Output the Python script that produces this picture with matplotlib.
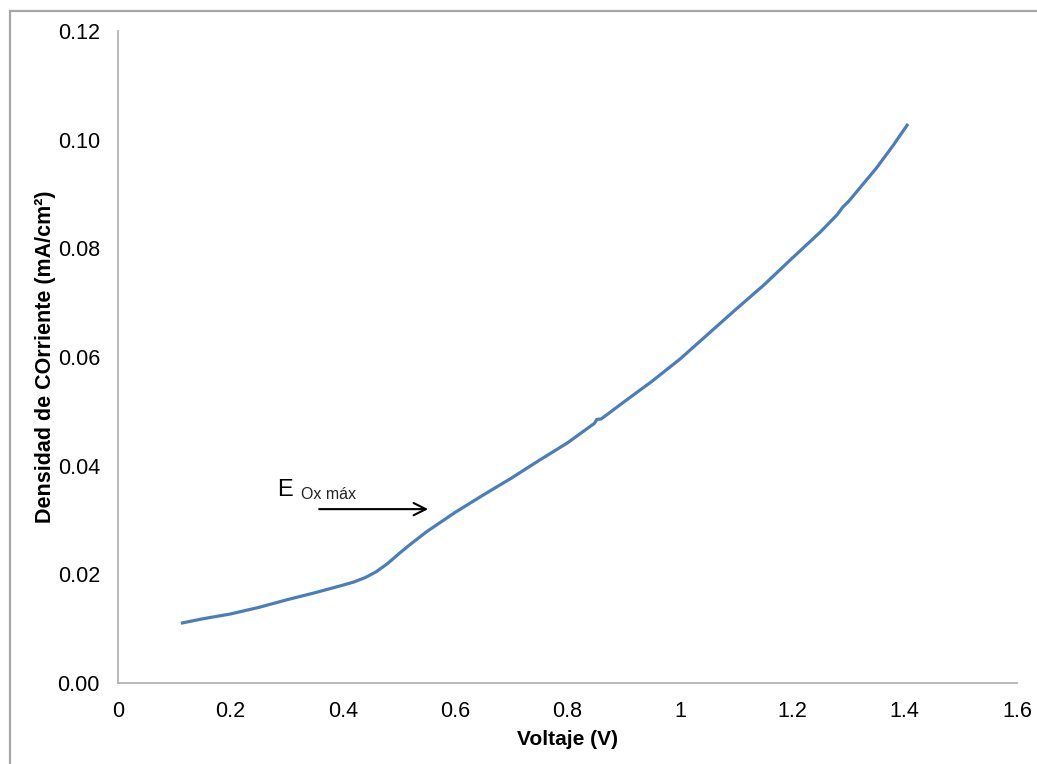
import matplotlib.pyplot as plt
from matplotlib.patches import Rectangle

plt.rcParams['font.family'] = ['Liberation Sans', 'DejaVu Sans']

# curva de polarización
voltaje = [0.112, 0.15, 0.2, 0.25, 0.3, 0.35, 0.4, 0.42, 0.44, 0.46, 0.48, 0.5, 0.52,
           0.55, 0.58, 0.6, 0.65, 0.7, 0.75, 0.8, 0.84, 0.848, 0.852, 0.86, 0.9, 0.95, 1.0,
           1.05, 1.1, 1.15, 1.2, 1.25, 1.28, 1.29, 1.3, 1.35, 1.38, 1.406]
densidad = [0.0110, 0.0118, 0.0127, 0.0139, 0.0153, 0.0166, 0.0180, 0.0186, 0.0194, 0.0205,
            0.0220, 0.0238, 0.0255, 0.0279, 0.0300, 0.0314, 0.0346, 0.0377, 0.0410, 0.0442,
            0.0472, 0.0478, 0.0485, 0.0486, 0.0517, 0.0555, 0.0596, 0.0642, 0.0688, 0.0733,
            0.0782, 0.0830, 0.0862, 0.0876, 0.0886, 0.0948, 0.0990, 0.1029]

xticks = [0, 0.2, 0.4, 0.6, 0.8, 1, 1.2, 1.4, 1.6]
xtick_labels = ['0', '0.2', '0.4', '0.6', '0.8', '1', '1.2', '1.4', '1.6']
yticks = [0, 0.02, 0.04, 0.06, 0.08, 0.10, 0.12]
ytick_labels = ['0.00', '0.02', '0.04', '0.06', '0.08', '0.10', '0.12']

fig = plt.figure(figsize=(10.37, 7.64), dpi=100)
# marco exterior
fig.patches.append(Rectangle((10 / 1037, -0.05), 1.1, (764 - 11) / 764 + 0.05,
                             transform=fig.transFigure, fill=False,
                             edgecolor='#a6a6a6', linewidth=1.6))
ax = fig.add_axes([118 / 1037, 81 / 764, 899 / 1037, 652 / 764])

ax.plot(voltaje, densidad, color='#4a7ebb', linewidth=2.3,
        solid_joinstyle='round', solid_capstyle='butt')

ax.set_xlim(0, 1.6)
ax.set_ylim(0, 0.12)
ax.set_xticks(xticks)
ax.set_xticklabels(xtick_labels)
ax.set_yticks(yticks)
ax.set_yticklabels(ytick_labels)
ax.tick_params(length=0, labelsize=15.5, colors='black')
ax.tick_params(axis='x', pad=13)
ax.tick_params(axis='y', pad=13)

for s in ['top', 'right']:
    ax.spines[s].set_visible(False)
for s in ['left', 'bottom']:
    ax.spines[s].set_color('#b3b3b3')
    ax.spines[s].set_linewidth(1.3)

ax.set_xlabel('Voltaje (V)', fontsize=15, fontweight='bold', labelpad=6)
ax.set_ylabel('Densidad de COrriente (mA/cm²)', fontsize=15.5, fontweight='bold', labelpad=1)

# anotación E Ox máx
ax.annotate('', xy=(0.552, 0.0320), xytext=(0.358, 0.0320),
            arrowprops=dict(arrowstyle='->', color='black', lw=1.5,
                            mutation_scale=22, shrinkA=0, shrinkB=0))
ax.text(0.284, 0.0344, 'E', fontsize=17, va='baseline', ha='left')
ax.text(0.326, 0.0338, 'Ox máx', fontsize=11.5, va='baseline', ha='left', color='#222222')

fig.savefig('out.png', dpi=100)
